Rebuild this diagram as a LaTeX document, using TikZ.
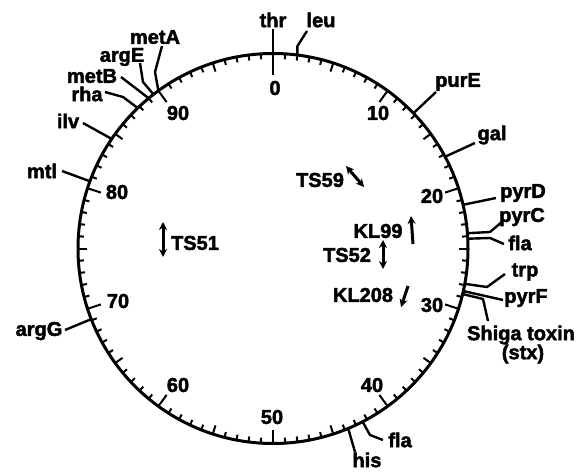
\documentclass[tikz,border=0pt]{standalone}
\usepackage{fontspec}
\setmainfont{Liberation Sans}
\newfontfamily\heavyfont{Liberation Sans Bold}[FakeBold=2.2]
\usetikzlibrary{arrows.meta,calc}
\newcommand\onring[2]{\coordinate (#1) at ($(C)+({195*sin(3.6*#2)},{-195*cos(3.6*#2)})$);}
\begin{document}
\begin{tikzpicture}[x=1pt,y=-1pt,
  lbl/.style={font=\heavyfont\fontsize{20}{22}\selectfont, inner sep=0pt},
  ring/.style={line width=3pt},
  tk/.style={line width=2pt},
  gl/.style={line width=2.4pt, line join=round},
  ar/.style={line width=3pt, -{Stealth[length=8pt,width=8pt]}},
  dar/.style={line width=3pt, {Stealth[length=8pt,width=8pt]}-{Stealth[length=8pt,width=8pt]}},
]
\useasboundingbox (0,0) rectangle (583,473);
\coordinate (C) at (273,248.5);
\draw[ring] (C) circle[radius=195pt];
% ticks
\foreach \p in {0,...,99}{
  \pgfmathsetmacro\len{ifthenelse(mod(\p,10)==0,14,ifthenelse(mod(\p,5)==0,9,5.5))}
  \draw[tk] ($(C)+({195*sin(3.6*\p)},{-195*cos(3.6*\p)})$) -- ($(C)+({(195-\len)*sin(3.6*\p)},{-(195-\len)*cos(3.6*\p)})$);
}
% scale numbers
\node[lbl] (n0) at (275,88) {0};
\node[lbl] (n10) at (378,113) {10};
\node[lbl] (n20) at (432,196) {20};
\node[lbl] (n30) at (432,305) {30};
\node[lbl] (n40) at (372,385) {40};
\node[lbl] (n50) at (272,417) {50};
\node[lbl] (n60) at (178,385) {60};
\node[lbl] (n70) at (118,301) {70};
\node[lbl] (n80) at (117,192) {80};
\node[lbl] (n90) at (178,113) {90};
% gene positions on ring
\onring{g-thr}{0}
\onring{g-leu}{2}
\onring{g-purE}{12.8}
\onring{g-gal}{17.2}
\onring{g-pyrD}{21.4}
\onring{g-pyrC}{23.75}
\onring{g-flaA}{24.2}
\onring{g-trp}{27.9}
\onring{g-pyrF}{28.5}
\onring{g-stx}{28.75}
\onring{g-flaB}{42.4}
\onring{g-his}{43.7}
\onring{g-argG}{69.1}
\onring{g-mtl}{80.6}
\onring{g-ilv}{84.5}
\onring{g-rha}{87.8}
\onring{g-metB}{89.0}
\onring{g-argE}{89.5}
\onring{g-metA}{90}
% gene labels
\node[lbl] (thr) at (273,20) {thr};
\node[lbl] (leu) at (321,20) {leu};
\node[lbl] (purE) at (458,82) {purE};
\node[lbl] (gal) at (492,135) {gal};
\node[lbl] (pyrD) at (523,193) {pyrD};
\node[lbl] (pyrC) at (522,217) {pyrC};
\node[lbl] (flaA) at (520,243) {fla};
\node[lbl] (trp) at (525,272) {trp};
\node[lbl] (pyrF) at (526,298) {pyrF};
\node[lbl] (stx) at (521,335) {Shiga toxin};
\node[lbl] (stx2) at (523,354) {(stx)};
\node[lbl] (his) at (367,460) {his};
\node[lbl] (flaB) at (400,440) {fla};
\node[lbl] (argG) at (39,331) {argG};
\node[lbl] (mtl) at (42,171) {mtl};
\node[lbl] (ilv) at (68,121) {ilv};
\node[lbl] (rha) at (87,94) {rha};
\node[lbl] (metB) at (92,76) {metB};
\node[lbl] (argE) at (122,57) {argE};
\node[lbl] (metA) at (155,37) {metA};
% connector ends
\coordinate (e-thr) at (273,29);
\coordinate (i-thr) at (273,75);
\coordinate (e-leu) at (307,31);
\coordinate (e-purE) at (436,92);
\coordinate (e-gal) at (475,143);
\coordinate (e-pyrD) at (496,198);
\coordinate (b-pyrC) at (490,232);
\coordinate (e-pyrC) at (503,221);
\coordinate (b-flaA) at (490,238);
\coordinate (e-flaA) at (504,244);
\coordinate (b-trp) at (487,287);
\coordinate (e-trp) at (505,274);
\coordinate (e-pyrF) at (503,300);
\coordinate (b-stx) at (483,299);
\coordinate (e-stx) at (488,321);
\coordinate (b-flaB) at (370,435);
\coordinate (e-flaB) at (383,440);
\coordinate (e-his) at (355,452);
\coordinate (e-argG) at (65,330);
\coordinate (e-mtl) at (62,171);
\coordinate (e-ilv) at (83,123);
\coordinate (b-rha) at (123,97);
\coordinate (e-rha) at (105,92);
\coordinate (e-metB) at (121,77);
\coordinate (b-argE) at (143,82);
\coordinate (e-argE) at (140,63);
\coordinate (b-metA) at (155,72);
\coordinate (e-metA) at (162,46);
% gene connectors
\draw[gl] (e-thr) -- (g-thr) -- (i-thr);
\draw[gl] (g-leu) -- ++(0,-9) -- (e-leu);
\draw[gl] (g-purE) -- (e-purE);
\draw[gl] (g-gal) -- (e-gal);
\draw[gl] (g-pyrD) -- (e-pyrD);
\draw[gl] (g-pyrC) -- (b-pyrC) -- (e-pyrC);
\draw[gl] (g-flaA) -- (b-flaA) -- (e-flaA);
\draw[gl] (g-trp) -- (b-trp) -- (e-trp);
\draw[gl] (g-pyrF) -- (e-pyrF);
\draw[gl] (g-stx) -- (b-stx) -- (e-stx);
\draw[gl] (g-flaB) -- (b-flaB) -- (e-flaB);
\draw[gl] (g-his) -- (e-his);
\draw[gl] (g-argG) -- (e-argG);
\draw[gl] (g-mtl) -- (e-mtl);
\draw[gl] (g-ilv) -- (e-ilv);
\draw[gl] (g-rha) -- (b-rha) -- (e-rha);
\draw[gl] (g-metB) -- (e-metB);
\draw[gl] (g-argE) -- (b-argE) -- (e-argE);
\draw[gl] (g-metA) -- (b-metA) -- (e-metA);
% inner markers
\node[lbl] (TS59) at (320,180) {TS59};
\coordinate (a59a) at (346,166);
\coordinate (a59b) at (364,187);
\draw[dar] (a59a) -- (a59b);
\node[lbl] (KL99) at (378,231) {KL99};
\coordinate (a99a) at (413,244);
\coordinate (a99b) at (411,216);
\draw[ar] (a99a) -- (a99b);
\node[lbl] (TS52) at (347,255) {TS52};
\coordinate (a52a) at (383,240);
\coordinate (a52b) at (383,269);
\draw[dar] (a52a) -- (a52b);
\node[lbl] (KL208) at (363,295) {KL208};
\coordinate (a208a) at (408,286);
\coordinate (a208b) at (401,307);
\draw[ar] (a208a) -- (a208b);
\node[lbl] (TS51) at (195,243) {TS51};
\coordinate (a51a) at (163,222);
\coordinate (a51b) at (163,257);
\draw[dar] (a51a) -- (a51b);
\end{tikzpicture}
\end{document}
